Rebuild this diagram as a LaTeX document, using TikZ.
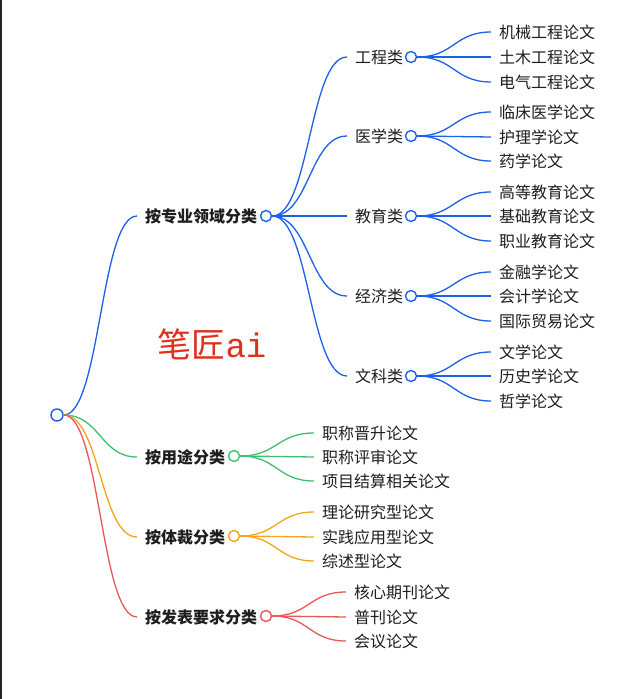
\documentclass[tikz,border=0pt]{standalone}
\usepackage{fontspec}
\setmainfont{Noto Sans CJK SC}
\newfontfamily\wmlat{Liberation Mono}
\usetikzlibrary{calc}
\definecolor{cb}{RGB}{28,98,228}
\definecolor{cg}{RGB}{62,192,114}
\definecolor{co}{RGB}{245,164,30}
\definecolor{cr}{RGB}{232,88,88}
\definecolor{wmred}{RGB}{222,48,30}
\definecolor{txtc}{RGB}{30,30,30}
\newcommand\link[3]{%
  \path ($(#2)!0.5!(#3)$) coordinate (mid);
  \draw[br=#1] (#2) .. controls (mid |- #2) and (mid |- #3) .. (#3);}
\begin{document}
\begin{tikzpicture}[x=1pt,y=-1pt,
  txt/.style={inner xsep=8pt, inner ysep=2pt, anchor=west, text=txtc, font=\fontsize{16}{19}\selectfont},
  boldtxt/.style={txt, font=\fontsize{16}{19}\selectfont\bfseries},
  dot/.style={circle, draw=#1, fill=white, line width=1.4pt, minimum size=11pt, inner sep=0pt},
  br/.style={draw=#1, line width=1.3pt},
]
\useasboundingbox (0,0) rectangle (641,699);
\fill[white] (0,0) rectangle (641,699);
\draw[line width=1.5pt, black!85] (0.75,0) -- (0.75,699);

% watermark
\node[text=wmred, font=\fontsize{34}{37}\selectfont, inner sep=0pt] (wm) at (212,344) {笔匠{\wmlat ai}};

% root
\node[dot=cb, minimum size=12pt] (r) at (57,415) {};

% level 1
\node[boldtxt] (A) at (137,216) {按专业领域分类};
\node[boldtxt] (B) at (137,457) {按用途分类};
\node[boldtxt] (C) at (137,537) {按体裁分类};
\node[boldtxt] (D) at (137,617) {按发表要求分类};
\node[dot=cb] (Ac) at (266,216) {};
\node[dot=cg] (Bc) at (234,456) {};
\node[dot=co] (Cc) at (234,536) {};
\node[dot=cr] (Dc) at (266,616) {};
\link{cb}{r.east}{A.west}
\link{cg}{r.east}{B.west}
\link{co}{r.east}{C.west}
\link{cr}{r.east}{D.west}

% level 2 (blue)
\node[txt] (A1) at (347,57) {工程类};
\node[txt] (A2) at (347,136) {医学类};
\node[txt] (A3) at (347,216) {教育类};
\node[txt] (A4) at (347,296) {经济类};
\node[txt] (A5) at (347,376) {文科类};
\foreach \i/\y in {1/57,2/136,3/216,4/296,5/376}{
  \node[dot=cb] (A\i c) at (411,\y) {};
  \link{cb}{Ac.east}{A\i.west}
}

% level 3 (blue leaves)
\node[txt] (L11) at (491,32) {机械工程论文};
\node[txt] (L12) at (491,57) {土木工程论文};
\node[txt] (L13) at (491,82) {电气工程论文};
\node[txt] (L21) at (491,112) {临床医学论文};
\node[txt] (L22) at (491,137) {护理学论文};
\node[txt] (L23) at (491,161) {药学论文};
\node[txt] (L31) at (491,192) {高等教育论文};
\node[txt] (L32) at (491,216) {基础教育论文};
\node[txt] (L33) at (491,241) {职业教育论文};
\node[txt] (L41) at (491,272) {金融学论文};
\node[txt] (L42) at (491,296) {会计学论文};
\node[txt] (L43) at (491,321) {国际贸易论文};
\node[txt] (L51) at (491,352) {文学论文};
\node[txt] (L52) at (491,376) {历史学论文};
\node[txt] (L53) at (491,401) {哲学论文};
\foreach \i in {1,...,5}{
  \foreach \j in {1,2,3}{
    \link{cb}{A\i c.east}{L\i\j.west}
  }
}

% green leaves
\node[txt] (B1) at (314,433) {职称晋升论文};
\node[txt] (B2) at (314,457) {职称评审论文};
\node[txt] (B3) at (314,481) {项目结算相关论文};
% orange leaves
\node[txt] (C1) at (314,512) {理论研究型论文};
\node[txt] (C2) at (314,537) {实践应用型论文};
\node[txt] (C3) at (314,561) {综述型论文};
% red leaves
\node[txt] (D1) at (346,592) {核心期刊论文};
\node[txt] (D2) at (346,617) {普刊论文};
\node[txt] (D3) at (346,641) {会议论文};
\foreach \j in {1,2,3}{
  \link{cg}{Bc.east}{B\j.west}
  \link{co}{Cc.east}{C\j.west}
  \link{cr}{Dc.east}{D\j.west}
}
\end{tikzpicture}
\end{document}
